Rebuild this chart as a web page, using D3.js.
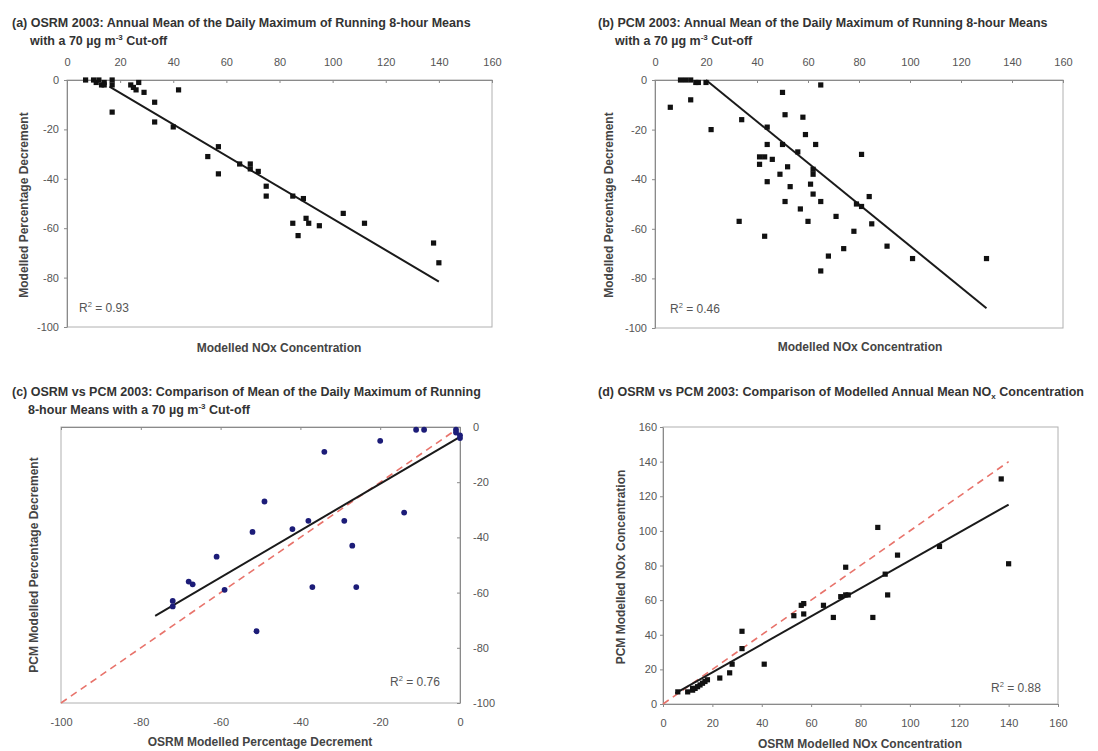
<!DOCTYPE html>
<html><head><meta charset="utf-8">
<script src="https://cdn.jsdelivr.net/npm/d3@7"></script>
<style>body{margin:0;background:#fff}svg{font-family:"Liberation Sans",Arial,sans-serif}</style>
</head><body><svg id="c" width="1098" height="751"></svg>
<script>
// ---- Panel (a): OSRM NOx vs percentage decrement ----
const aX = [7,10,11,12,13,14,14,17,17,17,24,25,26,27,29,33,33,42,40,53,57,57,65,69,69,72,75,75,85,89,85,87,90,91,95,104,112,138,140];
const aY = [0,0,-1,0,-2,-1,-2,0,-2,-13,-2,-3,-4,-1,-5,-9,-17,-4,-19,-31,-27,-38,-34,-34,-36,-37,-43,-47,-47,-48,-58,-63,-56,-58,-59,-54,-58,-66,-74];
const aFitX = [16,140];
const aFitY = [-2.7,-81.6];
const aR2 = "0.93";
// ---- Panel (b): PCM NOx vs percentage decrement ----
const bX = [6,10,12,14,16,17,20,14,22,34,44,44,41,43,46,41,44,50,51,50,52,49,53,58,59,56,63,62,62,61,65,81,62,51,57,65,60,71,33,43,78,79,81,84,85,74,68,65,91,101,130];
const bY = [-11,0,0,0,-1,-1,-1,-8,-20,-16,-19,-26,-31,-31,-32,-34,-41,-5,-14,-26,-35,-38,-43,-15,-22,-29,-26,-36,-38,-42,-2,-30,-46,-49,-52,-49,-57,-55,-57,-63,-61,-50,-51,-47,-58,-68,-71,-77,-67,-72,-72];
const bFitX = [20,130];
const bFitY = [0,-92];
const bR2 = "0.46";
// ---- Panel (c): OSRM vs PCM percentage decrement ----
const cX = [-11,-9,-1,-1,0,0,-20,-34,-49,-14,-38,-42,-52,-29,-27,-61,-68,-67,-59,-37,-26,-72,-72,-51];
const cY = [-1,-1,-1,-2,-3,-4,-5,-9,-27,-31,-34,-37,-38,-34,-43,-47,-56,-57,-59,-58,-58,-63,-65,-74];
const cFitX = [-76.4,0];
const cFitY = [-68.4,-3.6];
const cOneX = [-100,-2];
const cR2 = "0.76";
// ---- Panel (d): OSRM vs PCM NOx concentration ----
const dX = [137,87,95,112,140,74,90,91,85,72,74,75,69,65,57,56,57,53,32,32,41,28,27,23,15,16,17,18,14,13,12,10,12,6];
const dY = [130,102,86,91,81,79,75,63,50,62,63,63,50,57,58,57,52,51,42,32,23,23,18,15,11,12,13,14,10,9,9,7,8,7];
const dFitX = [5,140];
const dFitY = [6.2,115.2];
const dOneX = [0,140];
const dR2 = "0.88";
// ---- tick values ----
const nxTicks = [0,20,40,60,80,100,120,140,160];
const pctTicks = [0,-20,-40,-60,-80,-100];

const svg = d3.select("#c");
const TXT = "#555", TTL = "#333";
const fmt = d => String(d);

function styleAxis(g){
  g.attr("font-family",null).attr("font-size",null);
  g.selectAll("path,line").attr("stroke","#8a8a8a");
  g.selectAll("text").attr("fill",TXT).attr("font-size",11);
}
function frame(x,y){
  const xr=x.range(), yr=y.range();
  svg.append("rect").attr("x",Math.min(...xr)).attr("y",Math.min(...yr))
    .attr("width",Math.abs(xr[1]-xr[0])).attr("height",Math.abs(yr[1]-yr[0]))
    .attr("fill","none").attr("stroke","#b0b0b0").attr("stroke-width",1);
}
// segments: string = normal text; {t, dy, size} = shifted text; baseline restored by next segment
function title(lines,x,y,indent){
  lines.forEach((l,i)=>{
    const t=svg.append("text").attr("x",x+(i?indent:0)).attr("y",y+i*18)
      .attr("font-size",12.5).attr("font-weight","bold").attr("fill",TTL);
    let shift=0;
    l.forEach(seg=>{
      if(typeof seg==="string"){ t.append("tspan").attr("dy",-shift).text(seg); shift=0; }
      else { t.append("tspan").attr("font-size",8).attr("dy",seg.dy-shift).text(seg.t); shift=seg.dy; }
    });
  });
}
function xTitle(s,x,y){
  svg.append("text").attr("x",x).attr("y",y).attr("text-anchor","middle")
    .attr("font-size",12).attr("font-weight","bold").attr("fill","#444").text(s);
}
function yTitle(s,x,y){
  svg.append("text").attr("transform",`translate(${x},${y}) rotate(-90)`).attr("text-anchor","middle")
    .attr("font-size",12).attr("font-weight","bold").attr("fill","#444").text(s);
}
function r2(v,x,y){
  const t=svg.append("text").attr("x",x).attr("y",y).attr("font-size",12).attr("fill",TXT);
  t.append("tspan").text("R");
  t.append("tspan").attr("font-size",7.5).attr("dy",-5).text("2");
  t.append("tspan").attr("dy",5).text(" = "+v);
}
function squares(X,Y,x,y){
  svg.append("g").selectAll("rect").data(X).join("rect")
    .attr("x",(d)=>x(d)-2.6).attr("y",(d,i)=>y(Y[i])-2.6)
    .attr("width",5.2).attr("height",5.2).attr("fill","#111");
}
function fitLine(FX,FY,x,y){
  svg.append("line").attr("x1",x(FX[0])).attr("y1",y(FY[0]))
    .attr("x2",x(FX[1])).attr("y2",y(FY[1])).attr("stroke","#1a1a1a").attr("stroke-width",2);
}
function oneLine(OX,x,y){
  svg.append("line").attr("x1",x(OX[0])).attr("y1",y(OX[0]))
    .attr("x2",x(OX[1])).attr("y2",y(OX[1])).attr("stroke","#e8736b")
    .attr("stroke-width",1.6).attr("stroke-dasharray","7,5");
}
const sup3 = ["with a 70 µg m",{t:"-3",dy:-5}," Cut-off"];

// ===== (a) =====
{
  const x=d3.scaleLinear().domain([0,160]).range([67,492]);
  const y=d3.scaleLinear().domain([0,-100]).range([80,327]);
  frame(x,y);
  svg.append("g").attr("transform",`translate(0,${y(0)})`)
    .call(d3.axisTop(x).tickValues(nxTicks).tickFormat(fmt).tickSizeInner(-3).tickSizeOuter(0).tickPadding(14)).call(styleAxis);
  svg.append("g").attr("transform",`translate(${x(0)},0)`)
    .call(d3.axisLeft(y).tickValues(pctTicks).tickFormat(fmt).tickSizeInner(3).tickSizeOuter(0).tickPadding(5)).call(styleAxis);
  fitLine(aFitX,aFitY,x,y);
  squares(aX,aY,x,y);
  title([["(a) OSRM 2003: Annual Mean of the Daily Maximum of Running 8-hour Means"], sup3],12,27,18);
  xTitle("Modelled NOx Concentration",279,352);
  yTitle("Modelled  Percentage Decrement",28,205);
  r2(aR2,79,312);
}
// ===== (b) =====
{
  const x=d3.scaleLinear().domain([0,160]).range([655,1063]);
  const y=d3.scaleLinear().domain([0,-100]).range([80,328]);
  frame(x,y);
  svg.append("g").attr("transform",`translate(0,${y(0)})`)
    .call(d3.axisTop(x).tickValues(nxTicks).tickFormat(fmt).tickSizeInner(-3).tickSizeOuter(0).tickPadding(14)).call(styleAxis);
  svg.append("g").attr("transform",`translate(${x(0)},0)`)
    .call(d3.axisLeft(y).tickValues(pctTicks).tickFormat(fmt).tickSizeInner(3).tickSizeOuter(0).tickPadding(5)).call(styleAxis);
  fitLine(bFitX,bFitY,x,y);
  squares(bX,bY,x,y);
  title([["(b) PCM 2003: Annual Mean of the Daily Maximum of Running 8-hour Means"], sup3],598,27,17);
  xTitle("Modelled NOx Concentration",860,351);
  yTitle("Modelled  Percentage Decrement",613,205);
  r2(bR2,670,313);
}
// ===== (c) =====
{
  const x=d3.scaleLinear().domain([-100,0]).range([61,460]);
  const y=d3.scaleLinear().domain([0,-100]).range([427,703]);
  frame(x,y);
  svg.append("g").attr("transform",`translate(0,${y(0)})`)
    .call(d3.axisTop(x).tickValues(pctTicks).tickSizeInner(-3).tickSizeOuter(0).tickFormat("")).call(styleAxis);
  svg.append("g").attr("transform",`translate(0,${y(-100)})`)
    .call(d3.axisBottom(x).tickValues(pctTicks).tickFormat(fmt).tickSize(0).tickPadding(15)).call(styleAxis)
    .select(".domain").remove();
  svg.append("g").attr("transform",`translate(${x(0)},0)`)
    .call(d3.axisRight(y).tickValues(pctTicks).tickFormat(fmt).tickSizeInner(-3).tickSizeOuter(0).tickPadding(13)).call(styleAxis);
  oneLine(cOneX,x,y);
  fitLine(cFitX,cFitY,x,y);
  svg.append("g").selectAll("circle").data(cX).join("circle")
    .attr("cx",d=>x(d)).attr("cy",(d,i)=>y(cY[i])).attr("r",2.9).attr("fill","#1c1c78");
  title([["(c) OSRM vs PCM 2003: Comparison of Mean of the Daily Maximum of Running"],
         ["8-hour Means with a 70 µg m",{t:"-3",dy:-5}," Cut-off"]],12,396,16);
  xTitle("OSRM Modelled Percentage Decrement",260,746);
  yTitle("PCM Modelled Percentage Decrement",38,565);
  r2(cR2,390,686);
}
// ===== (d) =====
{
  const x=d3.scaleLinear().domain([0,160]).range([663,1058]);
  const y=d3.scaleLinear().domain([0,160]).range([704,427]);
  frame(x,y);
  svg.append("g").attr("transform",`translate(0,${y(0)})`)
    .call(d3.axisBottom(x).tickValues(nxTicks).tickFormat(fmt).tickSizeInner(3).tickSizeOuter(0).tickPadding(12)).call(styleAxis);
  svg.append("g").attr("transform",`translate(${x(0)},0)`)
    .call(d3.axisLeft(y).tickValues(nxTicks).tickFormat(fmt).tickSizeInner(3).tickSizeOuter(0).tickPadding(3)).call(styleAxis);
  oneLine(dOneX,x,y);
  fitLine(dFitX,dFitY,x,y);
  squares(dX,dY,x,y);
  title([["(d) OSRM vs PCM 2003: Comparison of Modelled Annual Mean NO",{t:"x",dy:3}," Concentration"]],598,396,0);
  xTitle("OSRM Modelled NOx Concentration",860,748);
  yTitle("PCM Modelled NOx Concentration",625,567);
  r2(dR2,991,692);
}
</script></body></html>
